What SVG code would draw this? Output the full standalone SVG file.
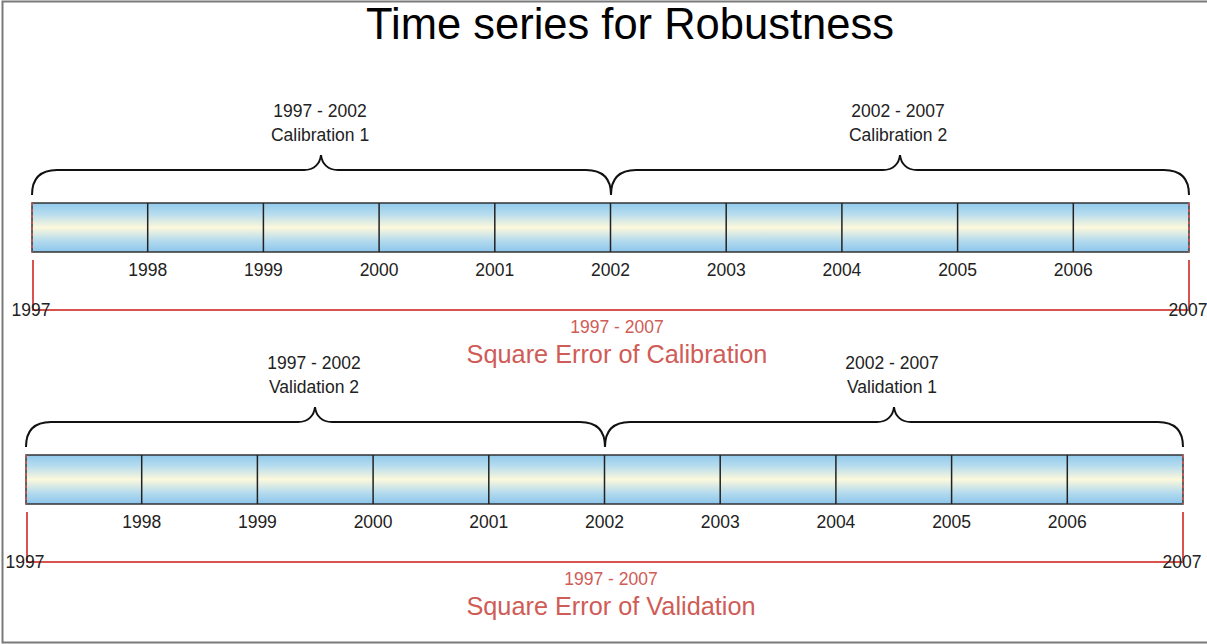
<svg xmlns="http://www.w3.org/2000/svg" xmlns:xlink="http://www.w3.org/1999/xlink" width="1207" height="644" viewBox="0 0 1207 644">
  <style>
    text { font-family: "Liberation Sans", Arial, sans-serif; fill: #222; }
    .title { font-size: 43.5px; fill: #000; text-anchor: middle; }
    .lbl { font-size: 17.5px; text-anchor: middle; }
    .red { fill: #cf5c57; text-anchor: middle; }
    .brace { fill: none; stroke: #111; stroke-width: 2; }
    .bar { fill: url(#barFill); stroke: #333; stroke-width: 1.5; }
    .tick { stroke: #222; stroke-width: 1.5; }
    .edge { stroke: #d9534e; stroke-width: 1.5; stroke-dasharray: 3 3; }
    .span { fill: none; stroke: #d9534e; stroke-width: 2; }
    .frame { fill: none; stroke: #7a7a7a; stroke-width: 2; }
  </style>
  <defs>
    <linearGradient id="barFill" x1="0" y1="0" x2="0" y2="1">
      <stop offset="0" stop-color="#90c9ec"/>
      <stop offset="0.22" stop-color="#b6dcee"/>
      <stop offset="0.5" stop-color="#fcf8dc"/>
      <stop offset="0.78" stop-color="#b2daee"/>
      <stop offset="1" stop-color="#8cc5ec"/>
    </linearGradient>
    <!-- one ten-year bar with yearly divisions, its year labels and its braces -->
    <g id="timeline">
      <rect class="bar" x="32" y="203" width="1157" height="49"/>
      <g class="tick">
        <line x1="147.7" y1="203" x2="147.7" y2="252"/>
        <line x1="263.4" y1="203" x2="263.4" y2="252"/>
        <line x1="379.1" y1="203" x2="379.1" y2="252"/>
        <line x1="494.8" y1="203" x2="494.8" y2="252"/>
        <line x1="610.5" y1="203" x2="610.5" y2="252"/>
        <line x1="726.2" y1="203" x2="726.2" y2="252"/>
        <line x1="841.9" y1="203" x2="841.9" y2="252"/>
        <line x1="957.6" y1="203" x2="957.6" y2="252"/>
        <line x1="1073.3" y1="203" x2="1073.3" y2="252"/>
      </g>
      <line class="edge" x1="32" y1="203" x2="32" y2="252"/>
      <line class="edge" x1="1189" y1="203" x2="1189" y2="252"/>
      <path class="brace" d="M32,195 Q32,170 57,170 H304 C314,170 320,164 321,155 C322,164 328,170 338,170 H586 Q611,170 611,195 Q611,170 636,170 H883 C893,170 899,164 900,155 C901,164 907,170 917,170 H1164 Q1189,170 1189,195"/>
      <g class="lbl">
        <text x="147.7" y="276">1998</text>
        <text x="263.4" y="276">1999</text>
        <text x="379.1" y="276">2000</text>
        <text x="494.8" y="276">2001</text>
        <text x="610.5" y="276">2002</text>
        <text x="726.2" y="276">2003</text>
        <text x="841.9" y="276">2004</text>
        <text x="957.6" y="276">2005</text>
        <text x="1073.3" y="276">2006</text>
      </g>
    </g>
  </defs>

  <!-- outer frame -->
  <path class="frame" d="M1208,1.5 H2.5 V642.5 H1208"/>

  <g id="title">
    <text class="title" x="630" y="39">Time series for Robustness</text>
  </g>

  <!-- calibration timeline -->
  <g id="calibration-bar">
    <use xlink:href="#timeline"/>
  </g>
  <g id="calibration-1">
    <text class="lbl" x="320" y="117">1997 - 2002</text>
    <text class="lbl" x="320" y="141">Calibration 1</text>
  </g>
  <g id="calibration-2">
    <text class="lbl" x="898" y="117">2002 - 2007</text>
    <text class="lbl" x="898" y="141">Calibration 2</text>
  </g>
  <g id="calibration-error">
    <text class="red" x="617" y="333" font-size="17.5">1997 - 2007</text>
    <text class="red" x="617" y="363" font-size="25.3">Square Error of Calibration</text>
  </g>

  <!-- validation timeline -->
  <g id="validation-bar" transform="translate(-6,252)">
    <use xlink:href="#timeline"/>
  </g>
  <g id="validation-2">
    <text class="lbl" x="314" y="369">1997 - 2002</text>
    <text class="lbl" x="314" y="393">Validation 2</text>
  </g>
  <g id="validation-1">
    <text class="lbl" x="892" y="369">2002 - 2007</text>
    <text class="lbl" x="892" y="393">Validation 1</text>
  </g>
  <g id="validation-error">
    <text class="red" x="611" y="585" font-size="17.5">1997 - 2007</text>
    <text class="red" x="611" y="615" font-size="25.3">Square Error of Validation</text>
  </g>

  <!-- span markers from 1997 to 2007 -->
  <g id="connectors">
    <path class="span" d="M33,260 V310 H1189 V260"/>
    <path class="span" d="M27,512 V562 H1183 V512"/>
  </g>
  <g id="span-ends" class="lbl">
    <text x="31" y="316">1997</text>
    <text x="1188" y="316">2007</text>
    <text x="25" y="568">1997</text>
    <text x="1182" y="568">2007</text>
  </g>
</svg>
